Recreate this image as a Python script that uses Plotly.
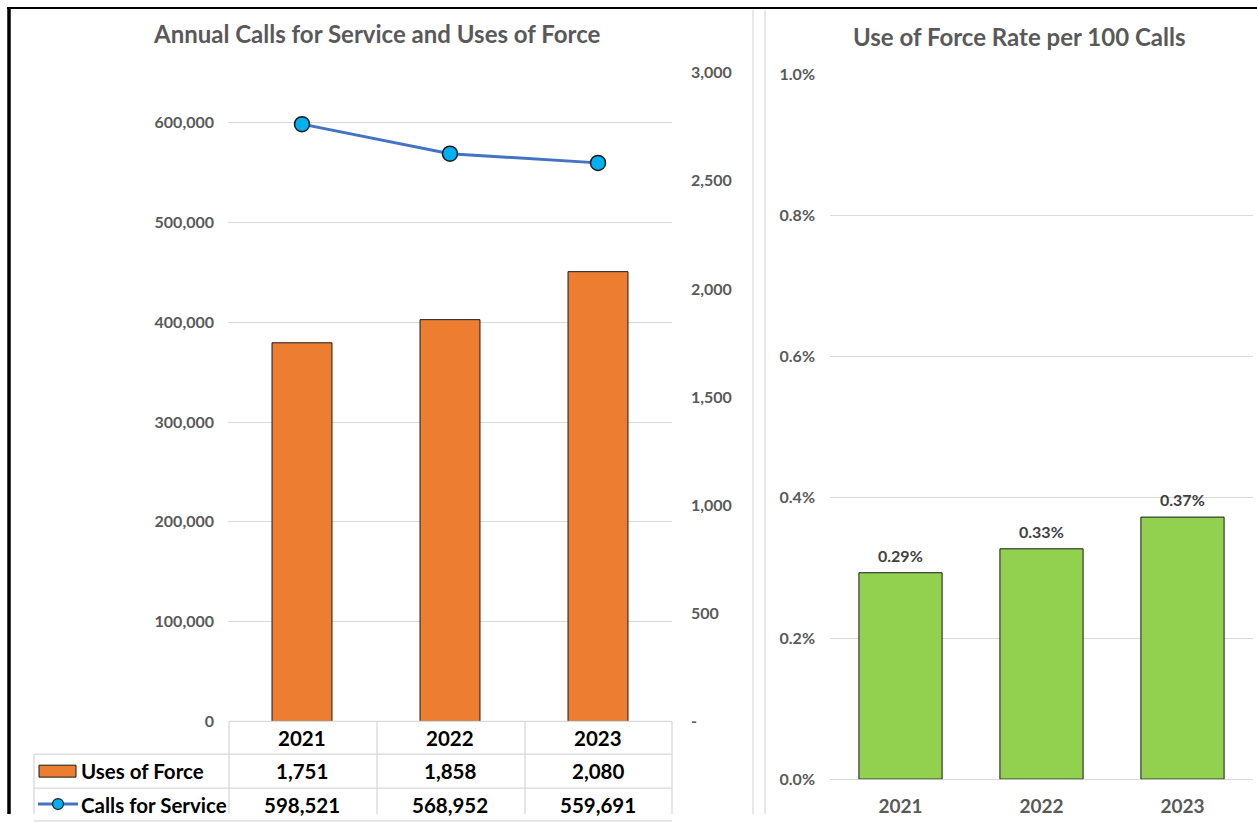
import plotly.graph_objects as go

# ---------------- data ----------------
years = ["2021", "2022", "2023"]
uses_of_force = [1751, 1858, 2080]
calls_for_service = [598521, 568952, 559691]
rate_per_100 = [0.00293, 0.00327, 0.00372]   # shown as %
right_ticks = [0, 500, 1000, 1500, 2000, 2500, 3000]

W, H = 1257, 823
# vertical placement helper (compensates the 8px top offset seen in the capture)
TOP, SPAN = 8.0, 807.0
def xp(px): return px / W
def yp(py): return 1 - (py - TOP) / SPAN

FONT = "Lato"
GRAY = "#595959"
GRID = "#d9d9d9"

fig = go.Figure()

fig.add_bar(x=years, y=uses_of_force, xaxis="x", yaxis="y2", name="Uses of Force",
            width=0.405, marker=dict(color="#ED7D31", line=dict(color="#1a1a1a", width=1)),
            showlegend=False)
fig.add_scatter(x=years, y=calls_for_service, xaxis="x", yaxis="y", name="Calls for Service",
                mode="lines+markers", line=dict(color="#4472C4", width=3),
                marker=dict(size=15, color="#00B0F0", line=dict(color="#1a1a1a", width=1.5)),
                showlegend=False)
fig.add_bar(x=years, y=rate_per_100, xaxis="x2", yaxis="y3", name="Rate",
            width=0.59, marker=dict(color="#92D050", line=dict(color="#1a1a1a", width=1)),
            showlegend=False)

tickfont = dict(family=FONT, size=16, color=GRAY, weight=700)

fig.update_layout(
    width=W, height=H, margin=dict(l=0, r=0, t=0, b=0),
    paper_bgcolor="white", plot_bgcolor="white",
    font=dict(family=FONT),
    xaxis=dict(domain=[xp(228), xp(672)], anchor="y", type="category", range=[-0.5, 2.5],
               showticklabels=False, showgrid=False, zeroline=False, showline=False, ticks=""),
    yaxis=dict(domain=[yp(722), yp(71)], anchor="x", range=[0, 650000], dtick=100000,
               tickformat=",d", gridcolor=GRID, gridwidth=1, zeroline=False, showline=False,
               ticks="", tickfont=tickfont, ticklabelstandoff=13),
    yaxis2=dict(overlaying="y", side="right", anchor="x", range=[0, 3000],
                tickvals=right_ticks,
                ticktext=["-" if v == 0 else f"{v:,}" for v in right_ticks],
                showgrid=False, zeroline=False, showline=False, ticks="",
                tickfont=tickfont, ticklabelstandoff=18),
    xaxis2=dict(domain=[xp(830), xp(1253)], anchor="y3", type="category", range=[-0.5, 2.5],
                showgrid=False, zeroline=False, showline=False, ticks="",
                tickfont=dict(family=FONT, size=19, color=GRAY, weight=700),
                ticklabelstandoff=14),
    yaxis3=dict(domain=[yp(780), yp(73)], anchor="x2", range=[0, 0.01], dtick=0.002,
                tickformat=".1%", gridcolor=GRID, gridwidth=1, zeroline=True,
                zerolinecolor=GRID, zerolinewidth=1, showline=False, ticks="",
                tickfont=tickfont, ticklabelstandoff=14),
)

shapes = []
# outer border (black) and panel separators (light gray)
shapes.append(dict(type="line", xref="paper", yref="paper", x0=xp(7), x1=1, y0=yp(6), y1=yp(6),
                   line=dict(color="black", width=2)))
shapes.append(dict(type="line", xref="paper", yref="paper", x0=xp(9), x1=xp(9), y0=yp(5), y1=0,
                   line=dict(color="black", width=3.5)))
for sx in (753, 765):
    shapes.append(dict(type="line", xref="paper", yref="paper", x0=xp(sx), x1=xp(sx),
                       y0=yp(8), y1=0, line=dict(color=GRID, width=1.2)))

# data table grid
tline = dict(color=GRID, width=1.3)
shapes.append(dict(type="line", xref="paper", yref="paper", x0=xp(229), x1=xp(672),
                   y0=yp(722), y1=yp(722), line=tline))
for ry in (755, 789, 822):
    shapes.append(dict(type="line", xref="paper", yref="paper", x0=xp(34), x1=xp(672),
                       y0=yp(ry), y1=yp(ry), line=tline))
shapes.append(dict(type="line", xref="paper", yref="paper", x0=xp(34), x1=xp(34),
                   y0=yp(755), y1=0, line=tline))
for cx in (229, 377, 525, 672):
    shapes.append(dict(type="line", xref="paper", yref="paper", x0=xp(cx), x1=xp(cx),
                       y0=yp(722), y1=0, line=tline))

# legend keys inside the table
shapes.append(dict(type="rect", xref="paper", yref="paper", x0=xp(39), x1=xp(76),
                   y0=yp(778), y1=yp(766), fillcolor="#ED7D31",
                   line=dict(color="#1a1a1a", width=1)))
shapes.append(dict(type="line", xref="paper", yref="paper", x0=xp(38), x1=xp(78),
                   y0=yp(805), y1=yp(805), line=dict(color="#4472C4", width=3)))
shapes.append(dict(type="circle", xref="paper", yref="paper", x0=xp(52.5), x1=xp(63.5),
                   y0=yp(810.5), y1=yp(799.5), fillcolor="#00B0F0",
                   line=dict(color="#1a1a1a", width=1.2)))
fig.update_layout(shapes=shapes)

ann = []
title_font = dict(family=FONT, size=24, color=GRAY, weight=700)
ann.append(dict(xref="paper", yref="paper", x=xp(377), y=yp(32), text="Annual Calls for Service and Uses of Force",
                showarrow=False, xanchor="center", yanchor="middle", font=title_font))
ann.append(dict(xref="paper", yref="paper", x=xp(1019), y=yp(35), text="Use of Force Rate per 100 Calls",
                showarrow=False, xanchor="center", yanchor="middle", font=title_font))

table_font = dict(family=FONT, size=20.5, color="black", weight=700)
for i, yr in enumerate(years):
    ann.append(dict(xref="x", yref="paper", x=i, y=yp(738.5), text=yr, showarrow=False,
                    xanchor="center", yanchor="middle", font=table_font))
    ann.append(dict(xref="x", yref="paper", x=i, y=yp(772), text=f"{uses_of_force[i]:,}",
                    showarrow=False, xanchor="center", yanchor="middle", font=table_font))
    ann.append(dict(xref="x", yref="paper", x=i, y=yp(805.5), text=f"{calls_for_service[i]:,}",
                    showarrow=False, xanchor="center", yanchor="middle", font=table_font))
ann.append(dict(xref="paper", yref="paper", x=xp(79), y=yp(772), text="Uses of Force",
                showarrow=False, xanchor="left", yanchor="middle", font=table_font))
ann.append(dict(xref="paper", yref="paper", x=xp(79), y=yp(805.5), text="Calls for Service",
                showarrow=False, xanchor="left", yanchor="middle", font=table_font))

# rate labels above green bars
for i, yr in enumerate(years):
    ann.append(dict(xref="x2", yref="y3", x=i, y=rate_per_100[i], text=f"{rate_per_100[i]:.2%}",
                    showarrow=False, xanchor="center", yanchor="bottom", yshift=6,
                    font=dict(family=FONT, size=16, color="#404040", weight=700)))
fig.update_layout(annotations=ann)

fig.write_html(
    "out.html",
    config={"displayModeBar": False},
    post_script=(
        "document.body.style.margin='0';"
        "document.documentElement.style.overflow='hidden';"
        "var gd=document.getElementById('{plot_id}');"
        "gd.style.position='fixed';gd.style.top='0px';gd.style.left='0px';"
    ),
)
